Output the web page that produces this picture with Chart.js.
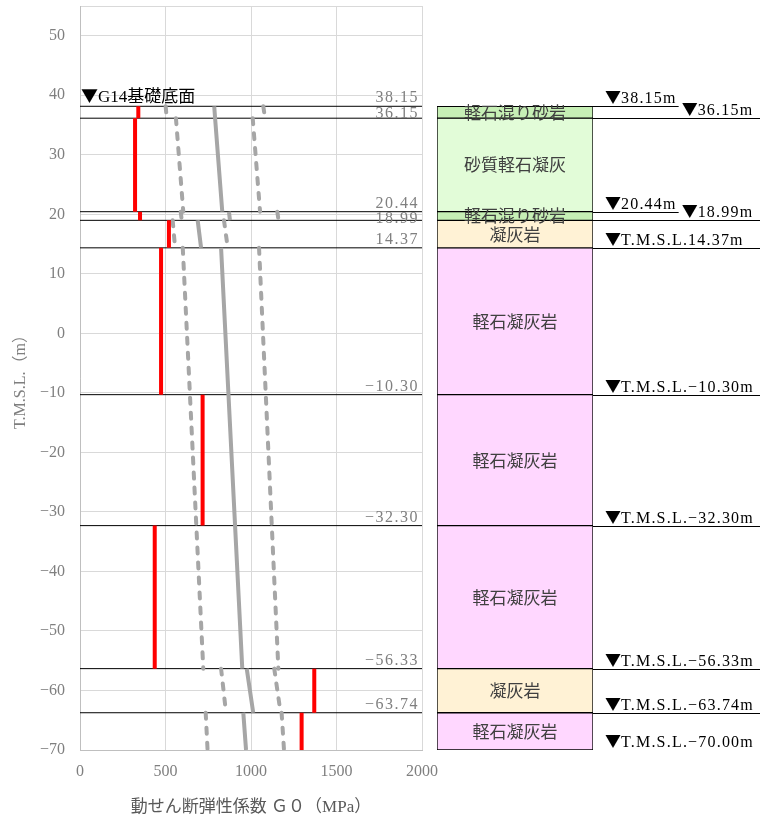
<!DOCTYPE html>
<html lang="ja">
<head>
<meta charset="utf-8">
<script src="https://cdn.jsdelivr.net/npm/chart.js@4/dist/chart.umd.min.js"></script>
<style>
body { margin: 0; background: #fff; }
#wrap { position: relative; width: 763px; height: 820px; }
#wrap canvas { position: absolute; left: 0; top: 0; }
</style>
</head>
<body>
<div id="wrap">
<canvas id="g0Chart" width="763" height="820"></canvas>
<canvas id="colChart" width="763" height="820"></canvas>
</div>
<script>
// 地層区分 (T.M.S.L. m)
const layerTops = [38.15, 36.15, 20.44, 18.99, 14.37, -10.30, -32.30, -56.33, -63.74];
const layerBottoms = [36.15, 20.44, 18.99, 14.37, -10.30, -32.30, -56.33, -63.74, -70.00];
const layerNames = ['軽石混り砂岩', '砂質軽石凝灰', '軽石混り砂岩', '凝灰岩', '軽石凝灰岩', '軽石凝灰岩', '軽石凝灰岩', '凝灰岩', '軽石凝灰岩'];
const layerColors = ['#c6efb5', '#e2fcd8', '#c6efb5', '#fff2d5', '#ffd7ff', '#ffd7ff', '#ffd7ff', '#fff2d5', '#ffd7ff'];

// 測定値 G0 (MPa) 各層
const measuredG0 = [341, 322, 351, 520, 474, 717, 437, 1370, 1296];

// 平均・下限・上限 (区間ごとの上端/下端)
const zoneTops = [38.15, 36.15, 20.44, 18.99, 14.37, -56.33, -63.74];
const zoneBottoms = [36.15, 20.44, 18.99, 14.37, -56.33, -63.74, -70.00];
const meanTop = [785, 790, 871, 688, 825, 975, 955];
const meanBottom = [790, 832, 877, 708, 949, 1013, 971];
const lowerTop = [501, 561, 589, 542, 601, 825, 735];
const lowerBottom = [507, 604, 595, 556, 721, 854, 746];
const upperTop = [1072, 1010, 1154, 842, 1047, 1136, 1179];
const upperBottom = [1082, 1053, 1161, 864, 1160, 1173, 1193];

// 境界レベル
const boundaryLevels = [38.15, 36.15, 20.44, 18.99, 14.37, -10.30, -32.30, -56.33, -63.74];
const levelValues = [38.15, 36.15, 20.44, 18.99, 14.37, -10.30, -32.30, -56.33, -63.74, -70.00];
const levelLabels = ['▼38.15m', '▼36.15m', '▼20.44m', '▼18.99m', '▼T.M.S.L.14.37m', '▼T.M.S.L.-10.30m',
  '▼T.M.S.L.-32.30m', '▼T.M.S.L.-56.33m', '▼T.M.S.L.-63.74m', '▼T.M.S.L.-70.00m'];
const baseLabel = '▼G14基礎底面';

const xTicks = [0, 500, 1000, 1500, 2000];
const yTicks = [-70, -60, -50, -40, -30, -20, -10, 0, 10, 20, 30, 40, 50];
const Y_MIN = -70, Y_MAX = 55;

const SERIF = "'Liberation Serif', 'Noto Sans CJK JP', serif";
const JP = "'Noto Sans CJK JP', sans-serif";

// 区間データを線分の点列に変換 (nullで切る)
function segs(tops, bottoms, xTop, xBottom) {
    const pts = [];
    tops.forEach((t, i) => {
        pts.push({ x: xTop[i], y: t }, { x: xBottom[i], y: bottoms[i] }, { x: null, y: null });
    });
    return pts;
}

const boundaryPts = [];
boundaryLevels.forEach(b => {
    boundaryPts.push({ x: xTicks[0], y: b }, { x: xTicks[xTicks.length - 1], y: b }, { x: null, y: null });
});

const minus = v => String(v).replace('-', '\u2212');

// ▼だけ和文フォントで描く (幅を返す)
function drawMarked(ctx, text, x, y, size, spacing) {
    let w = 0;
    if ('letterSpacing' in ctx) ctx.letterSpacing = '0px';
    ctx.font = size + 'px ' + JP;
    ctx.fillText('▼', x, y);
    w += ctx.measureText('▼').width;
    if ('letterSpacing' in ctx) ctx.letterSpacing = spacing + 'px';
    ctx.font = size + 'px ' + SERIF;
    const rest = minus(text.slice(1));
    ctx.fillText(rest, x + w, y);
    w += ctx.measureText(rest).width;
    return w;
}

// 左グラフの文字
const g0Labels = {
    id: 'g0Labels',
    afterDatasetsDraw(chart) {
        const { ctx, chartArea, scales } = chart;
        const y = scales.y;
        ctx.save();
        ctx.font = '16px ' + SERIF;
        ctx.fillStyle = '#7f7f7f';
        ctx.textAlign = 'right';
        ctx.textBaseline = 'alphabetic';
        if ('letterSpacing' in ctx) ctx.letterSpacing = '1.5px';
        let prev = -1000;
        boundaryLevels.forEach(b => {
            const py = y.getPixelForValue(b);
            const base = Math.max(py - 4, prev + 15.5);
            ctx.fillText(minus(b.toFixed(2)), chartArea.right - 3, base);
            prev = base;
        });
        ctx.fillStyle = '#000';
        ctx.textAlign = 'left';
        drawMarked(ctx, baseLabel, chartArea.left + 1, y.getPixelForValue(boundaryLevels[0]) - 4, 17, 0);
        ctx.restore();
    }
};

new Chart(document.getElementById('g0Chart'), {
    type: 'line',
    data: {
        datasets: [
            { data: segs(layerTops, layerBottoms, measuredG0, measuredG0), borderColor: '#ff0000', borderWidth: 4, order: 0 },
            { data: segs(zoneTops, zoneBottoms, meanTop, meanBottom), borderColor: '#a6a6a6', borderWidth: 4, order: 1 },
            { data: segs(zoneTops, zoneBottoms, lowerTop, lowerBottom), borderColor: '#a6a6a6', borderWidth: 4,
              borderDash: [6, 9], borderCapStyle: 'round', order: 1 },
            { data: segs(zoneTops, zoneBottoms, upperTop, upperBottom), borderColor: '#a6a6a6', borderWidth: 4,
              borderDash: [6, 9], borderCapStyle: 'round', order: 1 },
            { data: boundaryPts, borderColor: '#000', borderWidth: 1, order: 2 }
        ]
    },
    options: {
        responsive: false,
        animation: false,
        spanGaps: false,
        elements: { point: { radius: 0 }, line: { tension: 0 } },
        layout: { padding: { top: 6, right: 341, left: 0, bottom: 0 } },
        plugins: { legend: { display: false }, tooltip: { enabled: false } },
        scales: {
            x: {
                type: 'linear',
                min: 0, max: 2000,
                afterBuildTicks: s => { s.ticks = xTicks.map(v => ({ value: v })); },
                afterFit: s => { s.height = 70; s.paddingLeft = 0; s.paddingRight = 0; },
                grid: { color: '#d9d9d9', drawTicks: false },
                border: { color: '#bfbfbf' },
                ticks: { color: '#7f7f7f', font: { family: SERIF, size: 16 }, padding: 12, maxRotation: 0,
                         callback: v => String(v) },
                title: { display: true, text: '動せん断弾性係数 Ｇ０（MPa）', color: '#595959',
                         font: { family: SERIF, size: 17 }, padding: { top: 0, bottom: 2 } }
            },
            y: {
                type: 'linear',
                min: Y_MIN, max: Y_MAX,
                afterBuildTicks: s => { s.ticks = yTicks.concat([Y_MAX]).map(v => ({ value: v })); },
                afterFit: s => { s.width = 80; s.paddingTop = 0; s.paddingBottom = 0; },
                grid: { color: '#d9d9d9', drawTicks: false },
                border: { color: '#bfbfbf' },
                ticks: { color: '#7f7f7f', font: { family: SERIF, size: 16 }, padding: 15,
                         callback: v => (v > 50 ? '' : minus(v)) },
                title: { display: true, text: 'T.M.S.L.（m）', color: '#7f7f7f',
                         font: { family: SERIF, size: 16 }, padding: { top: 11, bottom: 0 } }
            }
        }
    },
    plugins: [g0Labels]
});

// 柱状図の文字とレベル表示
const colLabels = {
    id: 'colLabels',
    afterDatasetsDraw(chart) {
        const { ctx, chartArea, scales } = chart;
        const y = scales.y;
        ctx.save();
        // 層名
        ctx.font = '17px ' + JP;
        ctx.fillStyle = '#404040';
        ctx.textAlign = 'center';
        ctx.textBaseline = 'middle';
        layerNames.forEach((name, i) => {
            const bar = chart.getDatasetMeta(i).data[0];
            ctx.fillText(name, bar.x, (bar.y + bar.base) / 2);
        });
        // レベル
        ctx.fillStyle = '#000';
        ctx.textAlign = 'left';
        ctx.textBaseline = 'alphabetic';
        ctx.strokeStyle = '#000';
        ctx.lineWidth = 1;
        const x0 = chartArea.right + 12;
        let shortEnd = 0;
        levelValues.forEach((v, i) => {
            const py = Math.round(y.getPixelForValue(v)) + 0.5;
            const shifted = i > 0 && levelValues[i - 1] - v < 3;
            const nextShifted = i < levelValues.length - 1 && v - levelValues[i + 1] < 3;
            const tx = shifted ? shortEnd + 3 : x0;
            const w = drawMarked(ctx, levelLabels[i], tx, py - 4, 16, 1.2);
            if (i === levelValues.length - 1) return;
            let end = chart.width - 3;
            if (nextShifted) { end = tx + w + 2; shortEnd = end; }
            ctx.beginPath();
            ctx.moveTo(chartArea.right, py);
            ctx.lineTo(end, py);
            ctx.stroke();
        });
        ctx.restore();
    }
};

new Chart(document.getElementById('colChart'), {
    type: 'bar',
    data: {
        labels: ['柱状図'],
        datasets: layerNames.map((name, i) => ({
            label: name,
            data: [[layerBottoms[i], layerTops[i]]],
            backgroundColor: layerColors[i],
            borderColor: '#000',
            borderWidth: 1,
            borderSkipped: false,
            grouped: false,
            barPercentage: 1,
            categoryPercentage: 1
        }))
    },
    options: {
        responsive: false,
        animation: false,
        layout: { padding: { top: 6, right: 170, left: 437, bottom: 70 } },
        plugins: { legend: { display: false }, tooltip: { enabled: false } },
        scales: {
            x: { display: false },
            y: { display: false, min: Y_MIN, max: Y_MAX }
        }
    },
    plugins: [colLabels]
});
</script>
</body>
</html>
